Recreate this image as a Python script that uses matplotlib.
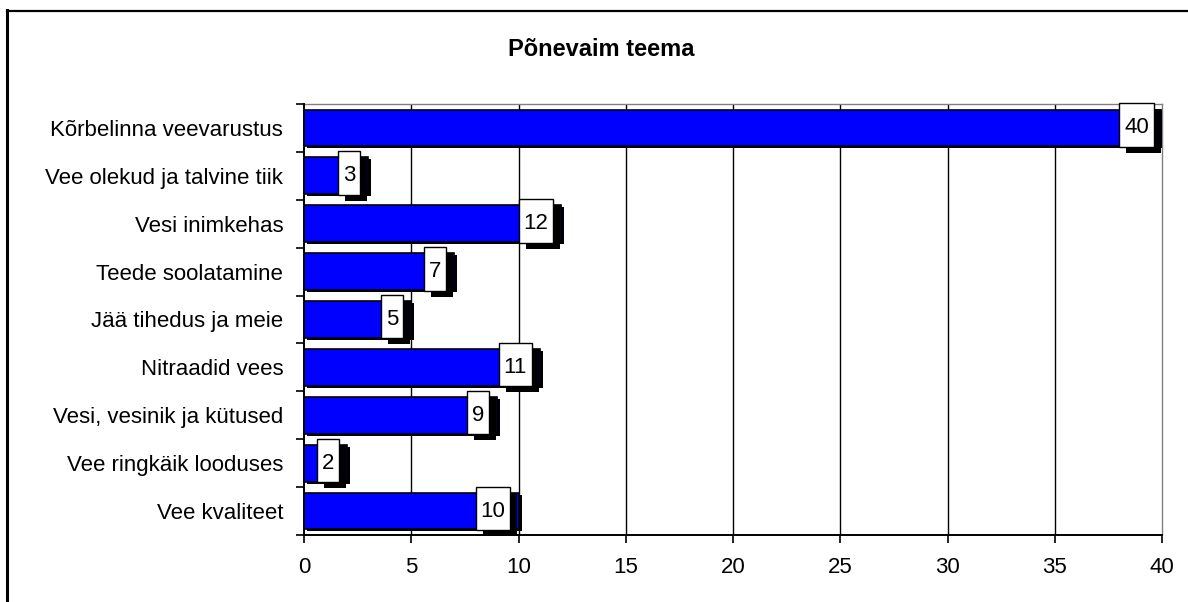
import matplotlib
matplotlib.use('Agg')
from matplotlib import pyplot as plt
from matplotlib import transforms
from matplotlib import patheffects
from matplotlib.lines import Line2D
from matplotlib.path import Path
import numpy as np

plt.rcParams['font.family'] = ['Liberation Sans', 'DejaVu Sans']

# categories listed top to bottom as in the chart
topics = ['Kõrbelinna veevarustus', 'Vee olekud ja talvine tiik', 'Vesi inimkehas',
          'Teede soolatamine', 'Jää tihedus ja meie', 'Nitraadid vees',
          'Vesi, vesinik ja kütused', 'Vee ringkäik looduses', 'Vee kvaliteet']
votes = [40, 3, 12, 7, 5, 11, 9, 2, 10]
x_ticks = [0, 5, 10, 15, 20, 25, 30, 35, 40]
chart_title = 'Põnevaim teema'


def label_box(x0, y0, width, height, mutation_size):
    """
    Square box, taller than it is padded sideways, like Excel data labels.
    """
    padx = 0.22 * mutation_size
    pad_top = 0.63 * mutation_size
    pad_bottom = 0.38 * mutation_size
    x1, y1 = x0 + width + padx, y0 + height + pad_top
    x0, y0 = x0 - padx, y0 - pad_bottom
    return Path([(x0, y0), (x1, y0), (x1, y1), (x0, y1), (x0, y0)], closed=True)


figure = plt.figure(figsize=(11.88, 6.02), dpi=100)
axes1 = figure.add_axes([304 / 1188, 1 - 535 / 602, (1162 - 304) / 1188, (535 - 104) / 602])

positions = np.arange(len(topics))
shadow = axes1.transData + transforms.ScaledTranslation(3 / 100, -2 / 100, figure.dpi_scale_trans)
axes1.barh(positions, votes, height=0.77, color='black', transform=shadow, zorder=2)
axes1.barh(positions, votes, height=0.77, color='#0000FF', edgecolor='black',
           linewidth=1.2, zorder=3)

box_shadow = [patheffects.SimplePatchShadow(offset=(5, -4.3), shadow_rgbFace='black', alpha=1.0),
              patheffects.Normal()]
for pos, value in zip(positions, votes):
    label = axes1.annotate(str(value), xy=(value, pos), xycoords='data',
                           xytext=(-13, 0), textcoords='offset pixels',
                           ha='right', va='center', fontsize=16, color='black',
                           bbox=dict(boxstyle=label_box, fc='white', ec='black', lw=1),
                           zorder=5)
    label.get_bbox_patch().set_path_effects(box_shadow)

axes1.set_xlim(0, 40)
axes1.set_ylim(len(topics) - 0.5, -0.5)
axes1.set_xticks(x_ticks)
axes1.set_xticklabels([str(t) for t in x_ticks])
axes1.set_yticks(positions)
axes1.set_yticklabels(topics)
axes1.set_yticks(np.arange(len(topics) + 1) - 0.5, minor=True)
axes1.tick_params(axis='y', which='major', length=0, pad=15, labelsize=16)
axes1.tick_params(axis='y', which='minor', length=6, width=1.2, color='black')
axes1.tick_params(axis='x', which='major', length=6, width=1.2, pad=10, labelsize=16)

for value in x_ticks[1:-1]:
    axes1.axvline(value, color='black', linewidth=1.0, zorder=1)

axes1.spines['left'].set_linewidth(1.4)
axes1.spines['bottom'].set_linewidth(1.4)
axes1.spines['left'].set_zorder(6)
axes1.spines['top'].set_color('#808080')
axes1.spines['right'].set_color('#808080')
axes1.spines['top'].set_linewidth(1.0)
axes1.spines['right'].set_linewidth(1.0)

figure.text(601 / 1188, 1 - 50 / 602, chart_title, ha='center', va='center',
            fontsize=17, fontweight='bold')

# outer chart frame, cut off at the right and bottom
figure.add_artist(Line2D([7 / 1188, 7 / 1188], [0, 1 - 10 / 602], color='black',
                         linewidth=2.2, transform=figure.transFigure))
figure.add_artist(Line2D([7 / 1188, 1], [1 - 11 / 602, 1 - 11 / 602], color='black',
                         linewidth=1.6, transform=figure.transFigure))

figure.savefig('out.png', dpi=100)
plt.close()
